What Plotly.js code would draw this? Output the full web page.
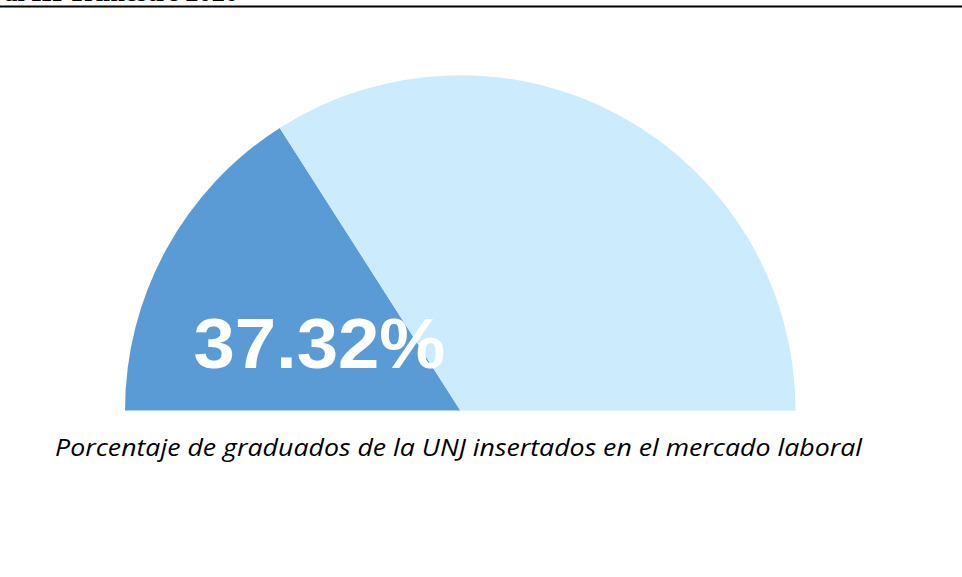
<!DOCTYPE html>
<html>
<head>
<meta charset="utf-8">
<script src="https://cdn.plot.ly/plotly-3.0.1.min.js"></script>
<style>
html,body{margin:0;padding:0;overflow:hidden;background:#fff;}
#chart{width:962px;height:800px;}
</style>
</head>
<body>
<div id="chart"></div>
<script>
// Data
var sliceLabels = ["Insertados", "No insertados", "oculto"];
var sliceValues = [31.9, 68.1, 100];
var sliceColors = ["#5B9BD5", "#CCEBFD", "rgba(0,0,0,0)"];
var percentLabel = "37.32%";
var captionText = "Porcentaje de graduados de la UNJ insertados en el mercado laboral";
var headerText = "al III Trimestre 2020";

var W = 962, H = 800;
var cx = 460.3, cy = 410.5, R = 335.3;
function px(x){ return x / W; }
function py(y){ return (H - y) / H; }

var trace = {
  type: "pie",
  labels: sliceLabels,
  values: sliceValues,
  marker: {colors: sliceColors, line: {width: 0}},
  sort: false,
  direction: "clockwise",
  rotation: -90,
  textinfo: "none",
  hoverinfo: "skip",
  showlegend: false,
  domain: {x: [px(cx - R), px(cx + R)], y: [py(cy + R), py(cy - R)]}
};

var layout = {
  width: W, height: H,
  margin: {l: 0, r: 0, t: 0, b: 0},
  paper_bgcolor: "#ffffff",
  plot_bgcolor: "#ffffff",
  showlegend: false,
  shapes: [{
    type: "line", xref: "paper", yref: "paper",
    x0: 0, x1: 1, y0: py(6.5), y1: py(6.5),
    line: {color: "#000000", width: 2}
  }],
  annotations: [
    {
      text: "<b>" + percentLabel + "</b>",
      xref: "paper", yref: "paper",
      x: px(319), y: py(343),
      xanchor: "center", yanchor: "middle",
      showarrow: false,
      font: {family: "Liberation Sans, Arial, sans-serif", size: 71, color: "#ffffff"}
    },
    {
      text: "<i>" + captionText + "</i>",
      xref: "paper", yref: "paper",
      x: px(458.5), y: py(447),
      xanchor: "center", yanchor: "middle",
      showarrow: false,
      font: {family: "Open Sans, sans-serif", size: 23, color: "#000000"}
    },
    {
      text: "<b>" + headerText + "</b>",
      xref: "paper", yref: "paper",
      x: px(4), y: py(2),
      xanchor: "left", yanchor: "bottom",
      yshift: -7,
      showarrow: false,
      font: {family: "Liberation Serif, Times New Roman, serif", size: 26, color: "#000000"}
    }
  ]
};

Plotly.newPlot("chart", [trace], layout, {displayModeBar: false, staticPlot: true}).then(function(gd){
  // stretch texts horizontally to match the reference widths
  var widths = [252, 807, 234];
  var texts = gd.querySelectorAll(".annotation-text");
  texts.forEach(function(t, i){
    if (widths[i]) {
      t.setAttribute("textLength", widths[i]);
      t.setAttribute("lengthAdjust", "spacingAndGlyphs");
    }
  });
});
</script>
</body>
</html>
